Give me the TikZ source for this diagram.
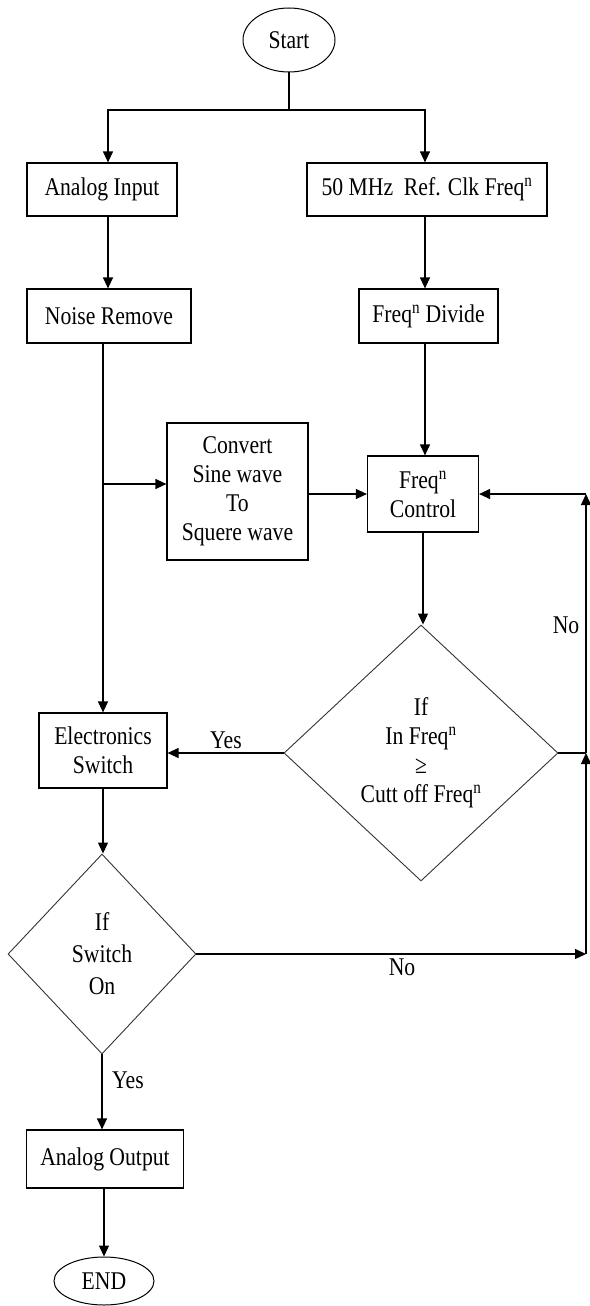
\documentclass[tikz,border=0pt]{standalone}
\usepackage{fontspec}
\setmainfont{Liberation Serif}[FakeStretch=0.85]
\usetikzlibrary{arrows.meta,shapes.geometric}
\begin{document}
\begin{tikzpicture}[x=1pt,y=-1pt,
  every node/.style={font=\fontsize{25.5}{29}\selectfont},
  box/.style={draw, line width=1.2pt, inner sep=0pt, align=center},
  term/.style={draw, ellipse, line width=1pt, inner sep=0pt},
  dec/.style={draw, diamond, line width=0.9pt, inner sep=0pt, align=center, draw=black!80},
  lab/.style={inner sep=0pt},
  line/.style={line width=1.2pt},
  arr/.style={line width=1.2pt, -{Triangle[length=11pt,width=10pt]}}]
\useasboundingbox (0,0) rectangle (589,1306);

% nodes
\node[term, minimum width=92pt, minimum height=64pt] (start) at (289,40) {Start};
\node[box, minimum width=150pt, minimum height=53pt] (ain) at (102,189.5) {Analog Input};
\node[box, minimum width=240pt, minimum height=53pt] (ref) at (427,189.5) {50 MHz\ \ Ref. Clk Freq\textsuperscript{n}};
\node[box, minimum width=164pt, minimum height=54pt] (noise) at (109,316) {Noise Remove};
\node[box, minimum width=139pt, minimum height=54pt] (div) at (428.5,316) {Freq\textsuperscript{n} Divide};
\node[box, minimum width=141pt, minimum height=137pt] (conv) at (237.5,491.5) {Convert\\Sine wave\\To\\Squere wave};
\node[box, minimum width=111pt, minimum height=76pt] (ctrl) at (423,494) {Freq\textsuperscript{n}\\Control};
\node[dec, minimum width=274pt, minimum height=256pt] (dia1) at (421,753) {If\\In Freq\textsuperscript{n}\\≥\\Cutt off Freq\textsuperscript{n}};
\node[box, minimum width=128pt, minimum height=75pt] (esw) at (103,750.5) {Electronics\\Switch};
\node[dec, minimum width=188pt, minimum height=200pt] (dia2) at (102,954) {If\\[3pt]Switch\\[3pt]On};
\node[box, minimum width=157pt, minimum height=58pt] (aout) at (105,1159) {Analog Output};
\node[term, minimum width=100pt, minimum height=48pt] (end) at (104,1281) {END};

% labels
\node[lab] (yes1) at (226,740) {Yes};
\node[lab] (no1) at (566,625) {No};
\node[lab] (no2) at (402,967) {No};
\node[lab] (yes2) at (128,1080) {Yes};

% helper coordinates
\coordinate (bm) at (start.south |- 0,110);
\coordinate (bl) at (108,110);
\coordinate (br) at (425,110);
\coordinate (j1) at (103,484);
\coordinate (xr) at (586,0);
\coordinate (c1) at (xr |- ctrl.east);
\coordinate (c2) at (xr |- dia1.east);
\coordinate (c3) at (xr |- dia2.east);

% connectors
\draw[line] (start.south) -- (bm);
\draw[arr] (bm) -- (bl) -- (bl |- ain.north);
\draw[arr] (bm) -- (br) -- (br |- ref.north);
\draw[arr] (ain.south -| bl) -- (noise.north -| bl);
\draw[arr] (ref.south -| br) -- (div.north -| br);
\draw[arr] (noise.south -| esw.north) -- (esw.north);
\draw[arr] (j1) -- (j1 -| conv.west);
\draw[arr] (conv.east |- ctrl.west) -- (ctrl.west);
\draw[arr] (div.south -| br) -- (ctrl.north -| br);
\draw[arr] (ctrl.south) -- (ctrl.south |- dia1.north);
\draw[arr] (dia1.west) -- (dia1.west -| esw.east);
\draw[arr] (esw.south) -- (esw.south |- dia2.north);
\draw[arr] (dia2.south) -- (dia2.south |- aout.north);
\draw[arr] (aout.south -| end.north) -- (end.north);
\draw[line] (dia1.east) -- (c2);
\draw[arr] (c2) -- (c1);
\draw[arr] (c1) -- (ctrl.east);
\draw[arr] (dia2.east) -- (c3);
\draw[arr] (c3) -- (c2);
\end{tikzpicture}
\end{document}
